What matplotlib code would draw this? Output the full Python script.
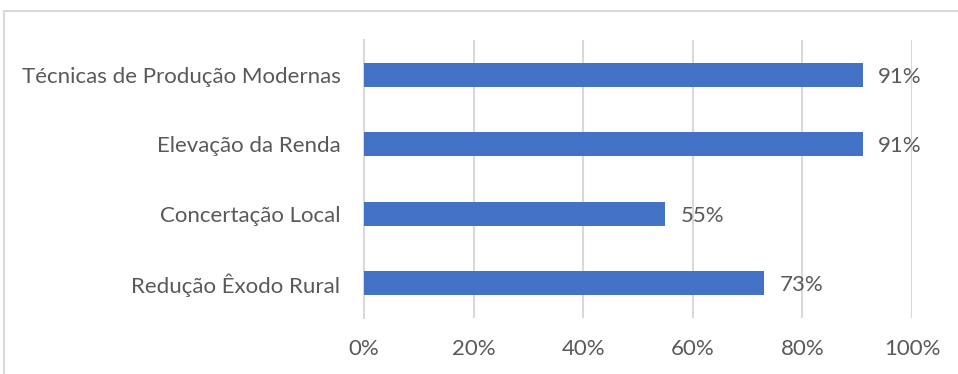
import matplotlib.pyplot as plt
from matplotlib.patches import Rectangle
from matplotlib.ticker import PercentFormatter

# categories listed bottom to top
categories = ["Redução Êxodo Rural", "Concertação Local",
              "Elevação da Renda", "Técnicas de Produção Modernas"]
values = [73, 55, 91, 91]
x_ticks = [0, 20, 40, 60, 80, 100]

BAR_COLOR = "#4472C4"
TEXT_COLOR = "#595959"
GRID_COLOR = "#D9D9D9"
FONT_SIZE = 16

plt.rcParams["font.family"] = ["Lato", "DejaVu Sans"]

fig = plt.figure(figsize=(9.58, 3.74), dpi=100)
ax = fig.add_axes([364 / 958, 56 / 374, 548 / 958, 278 / 374])

y = range(len(categories))
ax.barh(y, values, height=0.35, color=BAR_COLOR, zorder=3)

for yi, v in zip(y, values):
    ax.text(v + 2.8, yi - 0.03, f"{v}%", va="center", ha="left",
            fontsize=FONT_SIZE, color=TEXT_COLOR)

ax.set_xlim(0, 100)
ax.set_ylim(-0.5, len(categories) - 0.5)
ax.set_xticks(x_ticks)
ax.xaxis.set_major_formatter(PercentFormatter(decimals=0))
ax.set_yticks(list(y))
ax.set_yticklabels(categories)

ax.tick_params(axis="both", length=0, labelsize=FONT_SIZE, labelcolor=TEXT_COLOR)
ax.tick_params(axis="x", pad=15)
ax.tick_params(axis="y", pad=17)

ax.grid(axis="x", color=GRID_COLOR, linewidth=1.5, zorder=0)
for side in ["top", "right", "bottom"]:
    ax.spines[side].set_visible(False)
ax.spines["left"].set_color(GRID_COLOR)
ax.spines["left"].set_linewidth(1.5)

# chart frame
fig.patches.append(Rectangle((4 / 958, -0.1), 1.1, 1.1 - 11.5 / 374,
                             transform=fig.transFigure, fill=False,
                             edgecolor=GRID_COLOR, linewidth=1.5))

fig.savefig("out.png", dpi=100)
